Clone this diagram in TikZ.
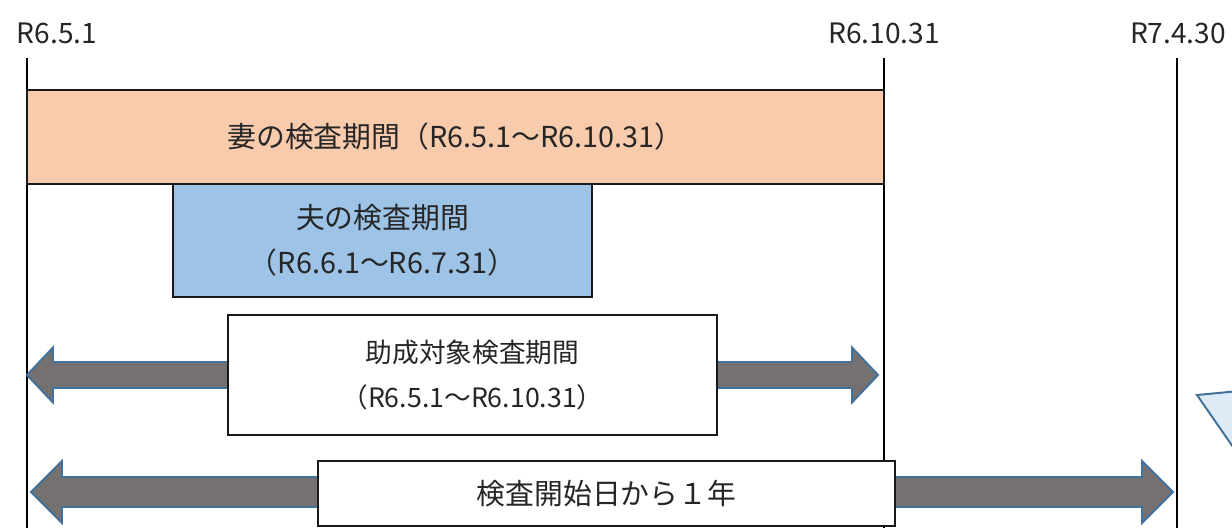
\documentclass[tikz,border=0pt]{standalone}
\usepackage{fontspec}
\setmainfont{Noto Sans CJK JP}
\usepackage{tikz}
\usetikzlibrary{positioning}

\definecolor{wifefill}{HTML}{F8CBAD}
\definecolor{husbandfill}{HTML}{9DC3E6}
\definecolor{arrowfill}{HTML}{767171}
\definecolor{arrowline}{HTML}{41719C}
\definecolor{callfill}{HTML}{DEEBF7}

\newlength\px
\setlength\px{0.025cm}

\tikzset{
  timeline/.style={line width=2.1pt},
  datelabel/.style={font=\fontsize{20pt}{24pt}\selectfont, text=black!85, inner sep=0pt},
  periodbox/.style={draw=black!90, line width=1.4pt, inner sep=0pt, align=center,
    font=\fontsize{20.5pt}{32pt}\selectfont, text=black!85},
  fatarrow/.style={draw=arrowline, fill=arrowfill, line width=1.4pt, line join=miter}
}

\begin{document}
\begin{tikzpicture}[x=0.025cm, y=-0.025cm]
	\useasboundingbox (0,0) rectangle (1232,528);
	\clip (0,0) rectangle (1232,528);

	% date labels
	\node[datelabel] (d1) at (57,33) {R6.5.1};
	\node[datelabel] (d2) at (884,33) {R6.10.31};
	\node[datelabel] (d3) at (1178,33) {R7.4.30};

	% time lines
	\coordinate (t1) at (27,58);
	\coordinate (b1) at (27,528);
	\coordinate (t2) at (884,58);
	\coordinate (b2) at (884,528);
	\coordinate (t3) at (1177,58);
	\coordinate (b3) at (1177,528);
	\draw [timeline] (t1) -- (b1);
	\draw [timeline] (t2) -- (b2);
	\draw [timeline] (t3) -- (b3);

	% periods
	\node[periodbox, fill=wifefill, minimum width=857\px, minimum height=94\px] (wife) at (455.5,137)
		{妻の検査期間（R6.5.1～R6.10.31）};
	\node[periodbox, fill=husbandfill, line width=2pt, minimum width=419\px, minimum height=113\px] (husband) at (382.5,240.5)
		{夫の検査期間\\（R6.6.1～R6.7.31）};

	% arrows
	\draw [fatarrow] (27,375) -- (53,347.5) -- (53,362) -- (852,362) -- (852,347.5) -- (878,375)
		-- (852,402.5) -- (852,388) -- (53,388) -- (53,402.5) -- cycle;
	\draw [fatarrow] (31,492) -- (62,461) -- (62,477) -- (1142,477) -- (1142,461) -- (1173,492)
		-- (1142,523) -- (1142,507) -- (62,507) -- (62,523) -- cycle;

	\node[periodbox, fill=white, font=\fontsize{19pt}{32pt}\selectfont, minimum width=489\px, minimum height=120\px] (subsidy) at (472.5,375)
		{助成対象検査期間\\（R6.5.1～R6.10.31）};
	\node[periodbox, fill=white, minimum width=577\px, minimum height=65\px] (oneyear) at (606.5,493.5)
		{検査開始日から１年};

	% callout tip at the right edge
	\draw [draw=arrowline, fill=callfill, line width=1.4pt] (1197,395) -- (1260,389) -- (1260,486) -- cycle;
\end{tikzpicture}
\end{document}
